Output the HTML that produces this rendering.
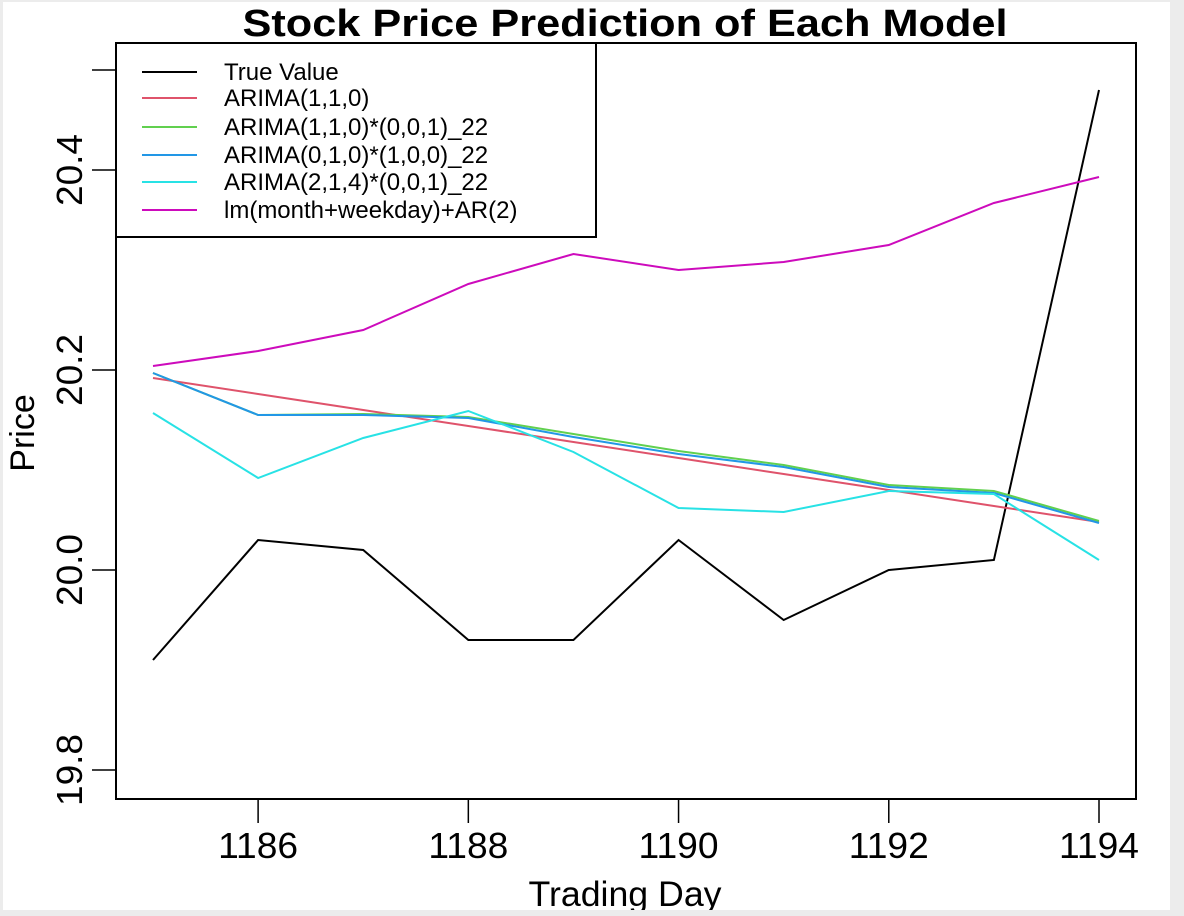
<!DOCTYPE html>
<html><head><meta charset="utf-8"><style>
html,body{margin:0;padding:0;background:#ececec;}
svg{display:block;}
text{font-family:"Liberation Sans",Arial,sans-serif;}
</style></head><body>
<svg id="chart" width="1184" height="916" viewBox="0 0 1184 916" xmlns="http://www.w3.org/2000/svg">
<rect x="3" y="2" width="1167" height="908" fill="#fff"/>
<text x="625" y="36" text-anchor="middle" font-size="38" font-weight="bold" textLength="765" lengthAdjust="spacingAndGlyphs">Stock Price Prediction of Each Model</text>
<g id="marks"></g>
<g id="axes"></g>
<rect x="116" y="43" width="1020" height="756" fill="none" stroke="#000" stroke-width="2"/>
<text x="0" y="0" transform="translate(34,433) rotate(-90)" text-anchor="middle" font-size="34">Price</text>
<text x="625" y="906" text-anchor="middle" font-size="35" textLength="193" lengthAdjust="spacingAndGlyphs">Trading Day</text>
<rect x="0" y="910" width="1184" height="6" fill="#ececec"/>
<g id="legend">
<rect x="116" y="43" width="480" height="194" fill="#fff" stroke="#000" stroke-width="2"/>
</g>
</svg>
<script>
const days = [1185,1186,1187,1188,1189,1190,1191,1192,1193,1194];
const trueValue = [19.91,20.03,20.02,19.93,19.93,20.03,19.95,20.00,20.01,20.48];
const arima110 = [20.192,20.176,20.160,20.144,20.128,20.112,20.096,20.080,20.064,20.048];
const sarimaA = [20.197,20.155,20.156,20.153,20.136,20.119,20.105,20.085,20.079,20.049];
const sarimaB = [20.197,20.155,20.155,20.152,20.133,20.116,20.103,20.083,20.077,20.047];
const sarimaC = [20.157,20.092,20.132,20.159,20.118,20.062,20.058,20.079,20.076,20.010];
const lmAr = [20.204,20.219,20.240,20.286,20.316,20.300,20.308,20.325,20.367,20.393];
const seriesNames = ["True Value","ARIMA(1,1,0)","ARIMA(1,1,0)*(0,0,1)_22","ARIMA(0,1,0)*(1,0,0)_22","ARIMA(2,1,4)*(0,0,1)_22","lm(month+weekday)+AR(2)"];
const seriesColors = ["#000000","#DF536B","#61D04F","#2297E6","#28E2E5","#CD0BBC"];
const xTicks = [1186,1188,1190,1192,1194];
const yTicks = [19.8,20.0,20.2,20.4,20.5];
const yTickLabels = ["19.8","20.0","20.2","20.4",""];

const NS="http://www.w3.org/2000/svg";
const xs = d => 153 + (d-1185)*(1099-153)/9;
const ys = v => 570 - (v-20.0)*1000;
function mk(tag, attrs, parent){const e=document.createElementNS(NS,tag);for(const k in attrs)e.setAttribute(k,attrs[k]);parent.appendChild(e);return e;}

const marks=document.getElementById('marks');
const allSeries=[trueValue,arima110,sarimaA,sarimaB,sarimaC,lmAr];
const seriesKeys=["true-value-line","arima-110-line","arima-110-001-line","arima-010-100-line","arima-214-001-line","lm-ar2-line"];
allSeries.forEach((s,i)=>{
  const p=mk('polyline',{points:s.map((v,j)=>xs(days[j])+','+ys(v)).join(' '),fill:'none',stroke:seriesColors[i],'stroke-width':2},marks);
  
  
});

const axes=document.getElementById('axes');
xTicks.forEach(t=>{
  const l=mk('line',{x1:xs(t),x2:xs(t),y1:799,y2:823,stroke:'#000','stroke-width':1.5},axes);
  
  
  const tx=mk('text',{x:xs(t),y:858,'text-anchor':'middle','font-size':36,textLength:80,lengthAdjust:'spacingAndGlyphs'},axes);
  tx.textContent=t;
  
  
});
yTicks.forEach((t,i)=>{
  const y=ys(t);
  const l=mk('line',{x1:92,x2:116,y1:y,y2:y,stroke:'#000','stroke-width':1.5},axes);
  
  
  if(yTickLabels[i]){
    const tx=mk('text',{x:0,y:0,transform:`translate(82,${y}) rotate(-90)`,'text-anchor':'middle','font-size':36,textLength:72,lengthAdjust:'spacingAndGlyphs'},axes);
    tx.textContent=yTickLabels[i];
    
    
  }
});

const legend=document.getElementById('legend');
const rowY=[72,98,127,155,182,210];
seriesNames.forEach((n,i)=>{
  const l=mk('line',{x1:142,x2:197,y1:rowY[i],y2:rowY[i],stroke:seriesColors[i],'stroke-width':2},legend);
  
  
  const tx=mk('text',{x:224,y:rowY[i]+8,'font-size':24},legend);
  tx.textContent=n;
  
  
});
</script>
</body></html>
